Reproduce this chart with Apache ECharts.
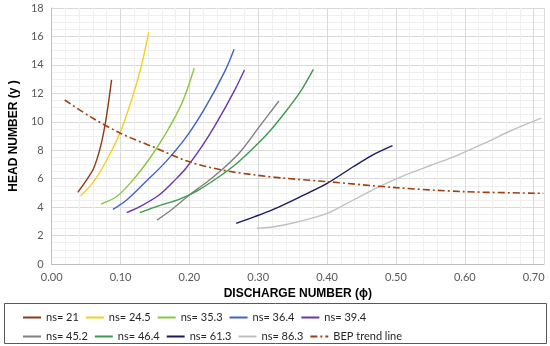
<!DOCTYPE html>
<html>
<head>
<meta charset="utf-8">
<script src="https://cdn.jsdelivr.net/npm/echarts@6/dist/echarts.min.js"></script>
<style>html,body{margin:0;padding:0;background:#fff}#c{width:550px;height:346px}</style>
</head>
<body>
<div id="c"></div>
<script>
// Series names
var names = ["ns= 21", "ns= 24.5", "ns= 35.3", "ns= 36.4", "ns= 39.4",
             "ns= 45.2", "ns= 46.4", "ns= 61.3", "ns= 86.3", "BEP trend line"];

// Discharge number (phi) / head number (psi) per series
var ns21_x = [0.038, 0.049, 0.061, 0.071, 0.078, 0.083, 0.087];
var ns21_y = [5.04, 5.79, 6.73, 8.25, 9.9, 11.5, 12.94];

var ns245_x = [0.042, 0.061, 0.080, 0.099, 0.116, 0.130, 0.141];
var ns245_y = [4.78, 5.79, 7.31, 9.19, 11.53, 13.87, 16.3];

var ns353_x = [0.072, 0.094, 0.118, 0.142, 0.166, 0.190, 0.207];
var ns353_y = [4.22, 4.73, 5.9, 7.4, 9.2, 11.4, 13.76];

var ns364_x = [0.089, 0.109, 0.137, 0.166, 0.195, 0.223, 0.252, 0.265];
var ns364_y = [3.84, 4.5, 5.8, 7.2, 8.9, 11.0, 13.6, 15.1];

var ns394_x = [0.109, 0.128, 0.156, 0.180, 0.195, 0.218, 0.242, 0.266, 0.280];
var ns394_y = [3.61, 4.03, 4.85, 5.95, 6.73, 8.25, 10.13, 12.24, 13.64];

var ns452_x = [0.153, 0.175, 0.200, 0.225, 0.250, 0.275, 0.300, 0.330];
var ns452_y = [3.09, 3.85, 4.85, 5.75, 6.75, 7.95, 9.55, 11.46];

var ns464_x = [0.128, 0.156, 0.185, 0.210, 0.242, 0.266, 0.290, 0.314, 0.338, 0.361, 0.380];
var ns464_y = [3.61, 4.1, 4.55, 5.1, 6.1, 6.96, 8.02, 9.19, 10.6, 12.1, 13.69];

var ns613_x = [0.268, 0.295, 0.321, 0.361, 0.400, 0.438, 0.466, 0.495];
var ns613_y = [2.86, 3.33, 3.82, 4.73, 5.67, 6.84, 7.66, 8.32];

var ns863_x = [0.298, 0.323, 0.352, 0.400, 0.438, 0.476, 0.514, 0.552, 0.590, 0.628, 0.667, 0.711];
var ns863_y = [2.51, 2.62, 2.9, 3.56, 4.5, 5.44, 6.26, 6.96, 7.66, 8.48, 9.37, 10.25];

var bep_x = [0.019, 0.056, 0.100, 0.152, 0.199, 0.247, 0.295, 0.338, 0.400, 0.500, 0.598, 0.714];
var bep_y = [11.53, 10.36, 9.19, 8.14, 7.2, 6.61, 6.26, 6.03, 5.79, 5.37, 5.09, 4.97];

// Axis ticks
var xTicks = [0.0, 0.1, 0.2, 0.3, 0.4, 0.5, 0.6, 0.7];
var yTicks = [0, 2, 4, 6, 8, 10, 12, 14, 16, 18];

var xs = [ns21_x, ns245_x, ns353_x, ns364_x, ns394_x, ns452_x, ns464_x, ns613_x, ns863_x, bep_x];
var ys = [ns21_y, ns245_y, ns353_y, ns364_y, ns394_y, ns452_y, ns464_y, ns613_y, ns863_y, bep_y];
var colors = ["#8B3A12", "#F2D01E", "#8CC63F", "#3F62C8", "#6A38A8",
              "#808080", "#3E9A4A", "#1A1A60", "#C0C0C0", "#A0410D"];

function zip(a, b) { return a.map(function (v, i) { return [v, b[i]]; }); }

var series = names.map(function (n, i) {
  var isBep = (i === 9);
  return {
    name: n, type: "line", data: zip(xs[i], ys[i]), smooth: 0.3,
    symbol: "none", color: colors[i],
    lineStyle: { width: isBep ? 1.6 : 1.4, color: colors[i], type: isBep ? [7, 3, 2, 3] : "solid" },
    z: isBep ? 3 : 2
  };
});

var font = "Lato, 'Liberation Sans', sans-serif";
var legendCommon = { left: 17, itemWidth: 18, itemHeight: 12, itemGap: 6,
  itemStyle: { opacity: 0 },
  textStyle: { fontFamily: font, fontSize: 11, color: "#262626", width: 80 } };

var chart = echarts.init(document.getElementById("c"), null, { renderer: "canvas" });
chart.setOption({
  animation: false,
  backgroundColor: "#fff",
  grid: { left: 44, top: 8, width: 500, height: 256, containLabel: false },
  xAxis: {
    type: "value", min: xTicks[0], max: 0.715, interval: 0.1,
    name: "DISCHARGE NUMBER (ϕ)", nameLocation: "middle", nameGap: 22,
    nameTextStyle: { fontFamily: "'Liberation Sans', Arial, sans-serif", fontWeight: "bold", fontSize: 12, color: "#000" },
    axisLine: { show: true, lineStyle: { color: "#BFBFBF" } },
    axisTick: { show: false },
    axisLabel: { fontFamily: font, fontSize: 11, color: "#595959", margin: 8, showMaxLabel: false,
      formatter: function (v) { return v.toFixed(2); } },
    splitLine: { show: true, lineStyle: { color: "#D9D9D9", width: 1 } },
    minorTick: { show: false, splitNumber: 5 },
    minorSplitLine: { show: true, lineStyle: { color: "#EFEFEF", width: 1 } }
  },
  yAxis: {
    type: "value", min: yTicks[0], max: yTicks[yTicks.length - 1], interval: 2,
    name: "HEAD NUMBER (y )", nameLocation: "middle", nameGap: 23, nameRotate: 90,
    nameTextStyle: { fontFamily: "'Liberation Sans', Arial, sans-serif", fontWeight: "bold", fontSize: 12, color: "#000" },
    axisLine: { show: true, lineStyle: { color: "#BFBFBF" } },
    axisTick: { show: false },
    axisLabel: { fontFamily: font, fontSize: 11, color: "#595959", margin: 8 },
    splitLine: { show: true, lineStyle: { color: "#D9D9D9", width: 1 } },
    minorTick: { show: false, splitNumber: 4 },
    minorSplitLine: { show: true, lineStyle: { color: "#EFEFEF", width: 1 } }
  },
  legend: [
    Object.assign({ data: names.slice(0, 5), top: 307 }, legendCommon),
    Object.assign({ data: names.slice(5), top: 326 }, legendCommon)
  ],
  graphic: [{
    type: "rect", shape: { x: 4.5, y: 303.5, width: 542, height: 40 },
    style: { fill: "none", stroke: "#595959", lineWidth: 1 }, silent: true
  }],
  series: series
});
</script>
</body>
</html>
